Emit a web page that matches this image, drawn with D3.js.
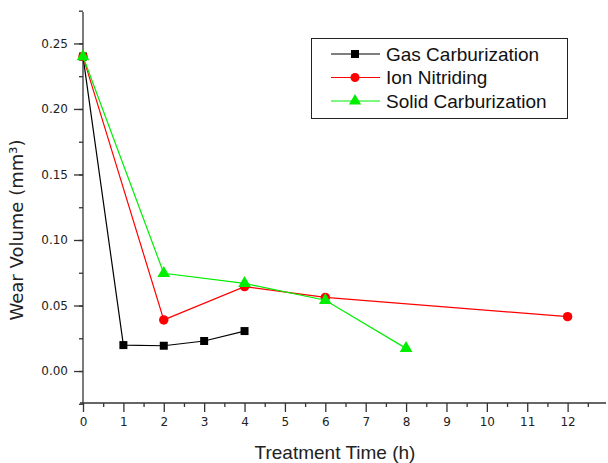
<!DOCTYPE html>
<html>
<head>
<meta charset="utf-8">
<script src="https://cdn.jsdelivr.net/npm/d3@7"></script>
<style>
  body { margin: 0; background: #fff; }
  .tick text { font-family: "DejaVu Sans", Tahoma, sans-serif; font-size: 12px; fill: #222; }
  .axisText { font-family: "Liberation Sans", Arial, sans-serif; font-size: 19px; fill: #222; }
  .legendText { font-family: "Liberation Sans", Arial, sans-serif; font-size: 19px; fill: #111; }
</style>
</head>
<body>
<div id="chart"></div>
<script>
// data
var seriesNames = ["Gas Carburization", "Ion Nitriding", "Solid Carburization"];
var gasTime = [0, 1, 2, 3, 4];
var gasWear = [0.240, 0.0198, 0.0193, 0.0229, 0.0305];
var ionTime = [0, 2, 4, 6, 12];
var ionWear = [0.240, 0.039, 0.0644, 0.0562, 0.0415];
var solidTime = [0, 2, 4, 6, 8];
var solidWear = [0.240, 0.0746, 0.0669, 0.054, 0.0173];
var xTicks = [0, 1, 2, 3, 4, 5, 6, 7, 8, 9, 10, 11, 12];
var yTicks = [0.00, 0.05, 0.10, 0.15, 0.20, 0.25];

var svgWidth = 608;
var svgHeight = 463;

var svg = d3.select("#chart").append("svg")
  .attr("width", svgWidth)
  .attr("height", svgHeight);

var x = d3.scaleLinear().domain([0, 13]).range([83, 608]);
var y = d3.scaleLinear().domain([-0.0244, 0.274]).range([403, 12]);

// y axis
var yAxis = d3.axisLeft(y).tickValues(yTicks).tickFormat(d3.format(".2f")).tickSize(9).tickPadding(6);
var yMinor = d3.axisLeft(y).tickValues(d3.range(-0.025, 0.275, 0.025).map(function(v) { return +v.toFixed(3); }))
  .tickSize(4).tickFormat("");

var gy = svg.append("g").attr("transform", "translate(83,0)").call(yAxis);
svg.append("g").attr("transform", "translate(83,0)").call(yMinor).select(".domain").remove();
gy.select(".domain").attr("d", "M0," + y.range()[1] + "V" + y.range()[0]);

// x axis
var xAxis = d3.axisBottom(x).tickValues(xTicks).tickSize(9).tickPadding(5);
var xMinor = d3.axisBottom(x).tickValues(d3.range(0.5, 13, 1)).tickSize(4).tickFormat("");
var gx = svg.append("g").attr("transform", "translate(0,403)").call(xAxis);
svg.append("g").attr("transform", "translate(0,403)").call(xMinor).select(".domain").remove();
gx.select(".domain").attr("d", "M80,0H606");

svg.selectAll(".domain, .tick line").attr("stroke", "#333").attr("stroke-width", 1.3);

// axis labels
svg.append("text")
  .attr("class", "axisText")
  .attr("text-anchor", "middle")
  .attr("transform", "translate(23,230) rotate(-90)")
  .style("font-family", "'DejaVu Sans', Tahoma, sans-serif")
  .style("font-size", "18px")
  .text("Wear Volume (mm³)");

svg.append("text")
  .attr("class", "axisText")
  .attr("text-anchor", "middle")
  .attr("x", 335)
  .attr("y", 459)
  .text("Treatment Time (h)");

var line = d3.line()
  .x(function(d) { return x(d[0]); })
  .y(function(d) { return y(d[1]); });

var gasData = gasTime.map(function(t, i) { return [t, gasWear[i]]; });
var ionData = ionTime.map(function(t, i) { return [t, ionWear[i]]; });
var solidData = solidTime.map(function(t, i) { return [t, solidWear[i]]; });

var plot = svg.append("g");

function drawSeries(data, color, symbol, size) {
  plot.append("path")
    .datum(data)
    .attr("fill", "none")
    .attr("stroke", color)
    .attr("stroke-width", 1.2)
    .attr("d", line);
  plot.selectAll(null)
    .data(data)
    .enter()
    .append("path")
    .attr("transform", function(d) { return "translate(" + x(d[0]) + "," + y(d[1]) + ")"; })
    .attr("d", d3.symbol().type(symbol).size(size))
    .attr("fill", color);
}

drawSeries(gasData, "#000000", d3.symbolSquare, 64);
drawSeries(ionData, "#ff0000", d3.symbolCircle, 70);
drawSeries(solidData, "#00ee00", d3.symbolTriangle, 70);

// legend
var legend = svg.append("g");
legend.append("rect")
  .attr("x", 311.5).attr("y", 38.5)
  .attr("width", 256).attr("height", 80)
  .attr("fill", "#fff").attr("stroke", "#222").attr("stroke-width", 1);

var legendColors = ["#000000", "#ff0000", "#00ee00"];
var legendSymbols = [d3.symbolSquare, d3.symbolCircle, d3.symbolTriangle];
var legendY = [54, 77.5, 101];

seriesNames.forEach(function(name, i) {
  legend.append("line")
    .attr("x1", 331).attr("x2", 380)
    .attr("y1", legendY[i]).attr("y2", legendY[i])
    .attr("stroke", legendColors[i]).attr("stroke-width", 1.2);
  legend.append("path")
    .attr("transform", "translate(355," + legendY[i] + ")")
    .attr("d", d3.symbol().type(legendSymbols[i]).size(64))
    .attr("fill", legendColors[i]);
  legend.append("text")
    .attr("class", "legendText")
    .attr("x", 386)
    .attr("y", legendY[i])
    .attr("dy", "0.36em")
    .text(name);
});
</script>
</body>
</html>
